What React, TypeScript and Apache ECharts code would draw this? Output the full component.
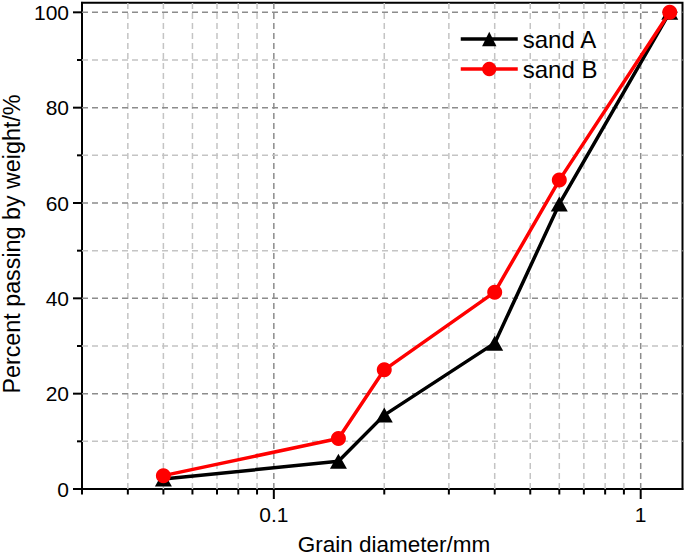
import React, { useEffect, useRef } from 'react';
import * as echarts from 'echarts';

// ---- data ----
const sizesA = [0.05, 0.15, 0.2, 0.4, 0.6, 1.2];
const passingA = [2.1, 5.8, 15.5, 30.6, 59.8, 100];
const sizesB = [0.05, 0.15, 0.2, 0.4, 0.6, 1.2];
const passingB = [2.8, 10.6, 25.0, 41.3, 64.8, 100];

const seriesNames = ['sand A', 'sand B'];

const X_MIN = 0.03;
const X_MAX = 1.3;
const Y_MIN = 0;
const Y_MAX = 102;

const xMajorTicks = [0.1, 1];
const xTickLabels = ['0.1', '1'];
const xMinorTicks = [0.03, 0.04, 0.05, 0.06, 0.07, 0.08, 0.09, 0.2, 0.3, 0.4, 0.5, 0.6, 0.7, 0.8, 0.9];
const yMajorTicks = [0, 20, 40, 60, 80, 100];
const yMinorTicks = [10, 30, 50, 70, 90];

const xTitle = 'Grain diameter/mm';
const yTitle = 'Percent passing by weight/%';

const FONT = '"Liberation Sans", Arial, Helvetica, sans-serif';

export default function App() {
  const ref = useRef<HTMLDivElement>(null);

  useEffect(() => {
    if (!ref.current) return;
    const chart = echarts.init(ref.current, undefined, { renderer: 'svg' });

    const xGridData = [
      ...xMajorTicks.map((v) => [v, 1]),
      ...xMinorTicks.map((v) => [v, 0]),
    ];
    const yGridData = [
      ...yMajorTicks.map((v) => [X_MIN, v, 1]),
      ...yMinorTicks.map((v) => [X_MIN, v, 0]),
    ];

    const option: any = {
      animation: false,
      grid: {
        left: 82,
        right: 2.5,
        top: 2.8,
        bottom: 67,
        show: true,
        borderColor: '#000',
        borderWidth: 2,
        backgroundColor: 'transparent',
      },
      legend: {
        orient: 'vertical',
        left: 454,
        top: 22,
        padding: 5,
        itemWidth: 57,
        itemHeight: 18,
        itemGap: 6,
        data: seriesNames,
        lineStyle: { width: 3.5 },
        textStyle: { fontFamily: FONT, fontSize: 24, color: '#000' },
      },
      xAxis: {
        type: 'log',
        logBase: 10,
        min: X_MIN,
        max: X_MAX,
        axisLine: { show: true, lineStyle: { color: '#000', width: 2 } },
        axisTick: { show: false },
        splitLine: { show: false },
        minorTick: { show: false },
        minorSplitLine: { show: false },
        axisLabel: {
          show: true,
          margin: 15,
          color: '#000',
          fontFamily: FONT,
          fontSize: 21,
          showMinLabel: false,
          showMaxLabel: false,
          formatter: (v: number) => {
            for (let i = 0; i < xMajorTicks.length; i++) {
              if (Math.abs(Math.log10(v) - Math.log10(xMajorTicks[i])) < 1e-6) return xTickLabels[i];
            }
            return '';
          },
        },
      },
      yAxis: {
        type: 'value',
        min: Y_MIN,
        max: Y_MAX,
        interval: 20,
        axisLine: { show: true, lineStyle: { color: '#000', width: 2 } },
        axisTick: { show: false },
        splitLine: { show: false },
        axisLabel: {
          show: true,
          margin: 13,
          color: '#000',
          fontFamily: FONT,
          fontSize: 21,
          showMaxLabel: false,
          formatter: (v: number) => (yMajorTicks.includes(v) ? String(v) : ''),
        },
      },
      graphic: [
        {
          type: 'text',
          x: 394,
          y: 544,
          style: {
            text: xTitle,
            fontFamily: FONT,
            fontSize: 22.5,
            fill: '#000',
            align: 'center',
            verticalAlign: 'middle',
          },
        },
        {
          type: 'text',
          x: 12,
          y: 244,
          rotation: Math.PI / 2,
          style: {
            text: yTitle,
            fontFamily: FONT,
            fontSize: 23.3,
            fill: '#000',
            align: 'center',
            verticalAlign: 'middle',
          },
        },
      ],
      series: [
        {
          type: 'custom',
          name: 'xgrid',
          silent: true,
          clip: false,
          z: 1,
          data: xGridData,
          renderItem: (params: any, api: any) => {
            const v = api.value(0);
            const major = api.value(1) === 1;
            const p0 = api.coord([v, Y_MIN]);
            const p1 = api.coord([v, Y_MAX]);
            const children: any[] = [];
            if (v > X_MIN * 1.0001) {
              children.push({
                type: 'line',
                shape: { x1: p0[0], y1: p0[1], x2: p1[0], y2: p1[1] },
                style: { stroke: major ? '#8c8c8c' : '#c4c4c4', lineWidth: 1.5, lineDash: [6, 4] },
              });
            }
            children.push({
              type: 'line',
              shape: { x1: p0[0], y1: p0[1], x2: p0[0], y2: p0[1] + (major ? 10 : 5.5) },
              style: { stroke: '#000', lineWidth: 2 },
            });
            return { type: 'group', children };
          },
        },
        {
          type: 'custom',
          name: 'ygrid',
          silent: true,
          clip: false,
          z: 1,
          data: yGridData,
          renderItem: (params: any, api: any) => {
            const v = api.value(1);
            const major = api.value(2) === 1;
            const p0 = api.coord([X_MIN, v]);
            const p1 = api.coord([X_MAX, v]);
            const children: any[] = [];
            if (v > Y_MIN) {
              children.push({
                type: 'line',
                shape: { x1: p0[0], y1: p0[1], x2: p1[0], y2: p1[1] },
                style: { stroke: major ? '#8c8c8c' : '#c4c4c4', lineWidth: 1.5, lineDash: [6, 4] },
              });
            }
            children.push({
              type: 'line',
              shape: { x1: p0[0], y1: p0[1], x2: p0[0] - (major ? 9 : 5), y2: p0[1] },
              style: { stroke: '#000', lineWidth: 2 },
            });
            return { type: 'group', children };
          },
        },
        {
          type: 'line',
          name: seriesNames[0],
          z: 3,
          data: sizesA.map((x, i) => [x, passingA[i]]),
          symbol: 'triangle',
          symbolSize: [17, 15],
          lineStyle: { color: '#000', width: 3.5 },
          itemStyle: { color: '#000' },
        },
        {
          type: 'line',
          name: seriesNames[1],
          z: 4,
          data: sizesB.map((x, i) => [x, passingB[i]]),
          symbol: 'circle',
          symbolSize: 15,
          lineStyle: { color: '#ff0000', width: 3.5 },
          itemStyle: { color: '#ff0000' },
        },
      ],
    };

    chart.setOption(option);
    return () => chart.dispose();
  }, []);

  return (
    <div
      ref={ref}
      style={{ position: 'fixed', left: 0, top: 0, width: 685, height: 556, background: '#fff' }}
    />
  );
}
